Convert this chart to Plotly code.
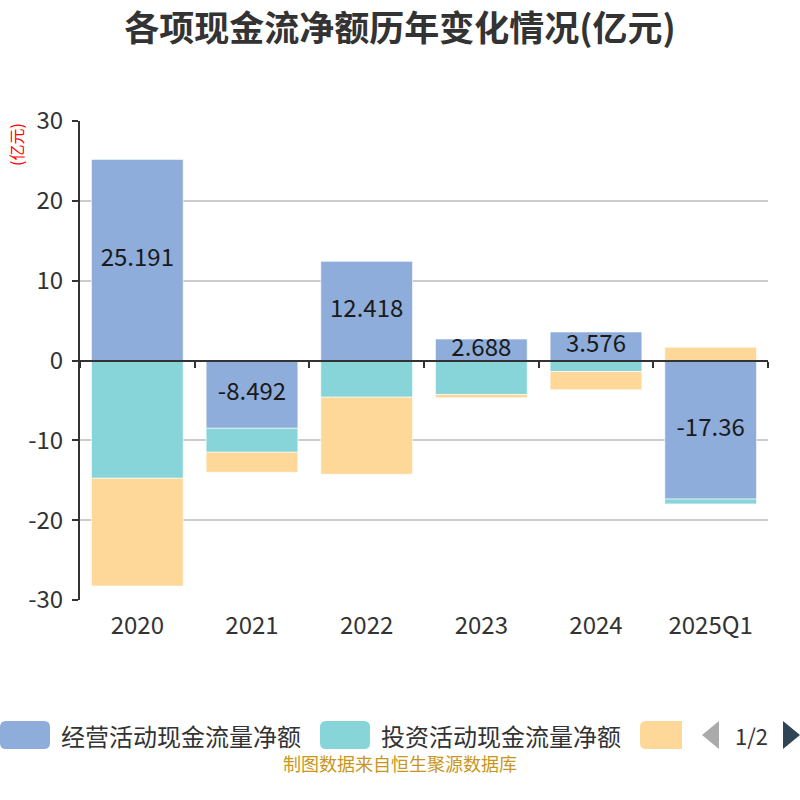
import plotly.graph_objects as go

categories = ["2020", "2021", "2022", "2023", "2024", "2025Q1"]
operating = [25.191, -8.492, 12.418, 2.688, 3.576, -17.36]
investing = [-14.75, -3.0, -4.6, -4.25, -1.38, -0.6]
financing = [-13.5, -2.5, -9.65, -0.42, -2.29, 1.65]
series_names = ["经营活动现金流量净额", "投资活动现金流量净额", "筹资活动现金流量净额"]
colors = ["#8EADDA", "#87D5D8", "#FED899"]
y_ticks = [-30, -20, -10, 0, 10, 20, 30]

FONT = "Noto Sans CJK SC"

fig = go.Figure()
for name, vals, col in zip(series_names, [operating, investing, financing], colors):
    fig.add_trace(go.Bar(
        x=categories, y=vals, name=name, showlegend=False,
        marker=dict(color=col, line=dict(color="rgba(255,255,255,0.6)", width=1)),
    ))

# value labels for operating bars, at bar centres
fig.add_trace(go.Scatter(
    x=categories, y=[v / 2 for v in operating], xaxis="x2", yaxis="y",
    mode="text", text=[f"{v:g}" for v in operating],
    textfont=dict(family=FONT, size=24, color="#1a1a1a"),
    showlegend=False, hoverinfo="skip",
))

fig.update_layout(
    width=800, height=800,
    paper_bgcolor="white", plot_bgcolor="white",
    barmode="relative", bargap=0.2,
    margin=dict(l=80, r=32, t=121, b=200),
    font=dict(family=FONT, color="#333"),
    title=dict(text="<b>各项现金流净额历年变化情况(亿元)</b>", x=0.5, xanchor="center",
               y=0.964, yanchor="middle", font=dict(family=FONT, size=35, color="#333")),
    xaxis=dict(type="category", range=[-0.5, 5.5], showgrid=False, showline=False,
               ticks="", tickfont=dict(size=24, color="#333"), ticklabelstandoff=9),
    xaxis2=dict(type="category", range=[-0.5, 5.5], overlaying="x", anchor="free",
                position=0.5, showticklabels=False, showgrid=False, showline=True,
                linecolor="#333", linewidth=2, ticks="outside", tickson="boundaries",
                ticklen=6, tickwidth=2, tickcolor="#333"),
    yaxis=dict(range=[-30, 30], tickvals=y_ticks, ticktext=[str(v) for v in y_ticks],
               showgrid=True, gridcolor="#ccc",
               gridwidth=1.5, zeroline=False, showline=True, linecolor="#333",
               linewidth=2, ticks="outside", ticklen=6, tickwidth=2, tickcolor="#333",
               tickfont=dict(size=24, color="#333"), ticklabelstandoff=4),
)

# y axis unit label
fig.add_annotation(text="(亿元)", xref="paper", yref="paper", x=-0.093, y=0.95,
                   xanchor="center", yanchor="middle",
                   textangle=-90, showarrow=False,
                   font=dict(family=FONT, size=16, color="red"))

# custom legend (paged look)
def px_x(p):
    return (p - 80) / 688

def px_y(p):
    return (600 - p) / 479

sw_x = [0, 320, 640]
sw_w = [50, 50, 42]
shapes = []
for i, col in enumerate(colors):
    x0 = sw_x[i]; x1 = x0 + sw_w[i]
    X0, X1 = px_x(x0), px_x(x1)
    Y0, Y1 = px_y(749), px_y(721)
    rx, ry = 6 / 688, 6 / 479
    if i < 2:
        path = (f"M{X0+rx},{Y0} L{X1-rx},{Y0} Q{X1},{Y0} {X1},{Y0+ry} L{X1},{Y1-ry} "
                f"Q{X1},{Y1} {X1-rx},{Y1} L{X0+rx},{Y1} Q{X0},{Y1} {X0},{Y1-ry} "
                f"L{X0},{Y0+ry} Q{X0},{Y0} {X0+rx},{Y0} Z")
    else:
        path = (f"M{X0+rx},{Y0} L{X1},{Y0} L{X1},{Y1} L{X0+rx},{Y1} Q{X0},{Y1} {X0},{Y1-ry} "
                f"L{X0},{Y0+ry} Q{X0},{Y0} {X0+rx},{Y0} Z")
    shapes.append(dict(type="path", xref="paper", yref="paper", path=path,
                       fillcolor=col, line=dict(width=0), layer="above"))
# pager arrows
lx0, lx1 = px_x(702), px_x(719)
shapes.append(dict(type="path", xref="paper", yref="paper",
                   path=f"M{lx1},{px_y(721)} L{lx0},{px_y(735)} L{lx1},{px_y(749)} Z",
                   fillcolor="#aaa", line=dict(width=0)))
rx0, rx1 = px_x(783), px_x(800)
shapes.append(dict(type="path", xref="paper", yref="paper",
                   path=f"M{rx0},{px_y(721)} L{rx1},{px_y(735)} L{rx0},{px_y(749)} Z",
                   fillcolor="#2f4554", line=dict(width=0)))
fig.update_layout(shapes=shapes)

for i in range(2):
    fig.add_annotation(text=series_names[i], xref="paper", yref="paper",
                       x=px_x(sw_x[i] + 59), y=px_y(735), xanchor="left", yanchor="middle",
                       showarrow=False, font=dict(family=FONT, size=24, color="#333"))
fig.add_annotation(text="1/2", xref="paper", yref="paper", x=px_x(751), y=px_y(735),
                   xanchor="center", yanchor="middle", showarrow=False,
                   font=dict(family=FONT, size=22, color="#333"))

fig.add_annotation(text="制图数据来自恒生聚源数据库", xref="paper", yref="paper",
                   x=px_x(400), y=px_y(763), xanchor="center", yanchor="middle",
                   showarrow=False, font=dict(family=FONT, size=18, color="#C8961E"))

fig.write_html("out.html", config={"displayModeBar": False},
               post_script="document.body.style.margin='0';")
